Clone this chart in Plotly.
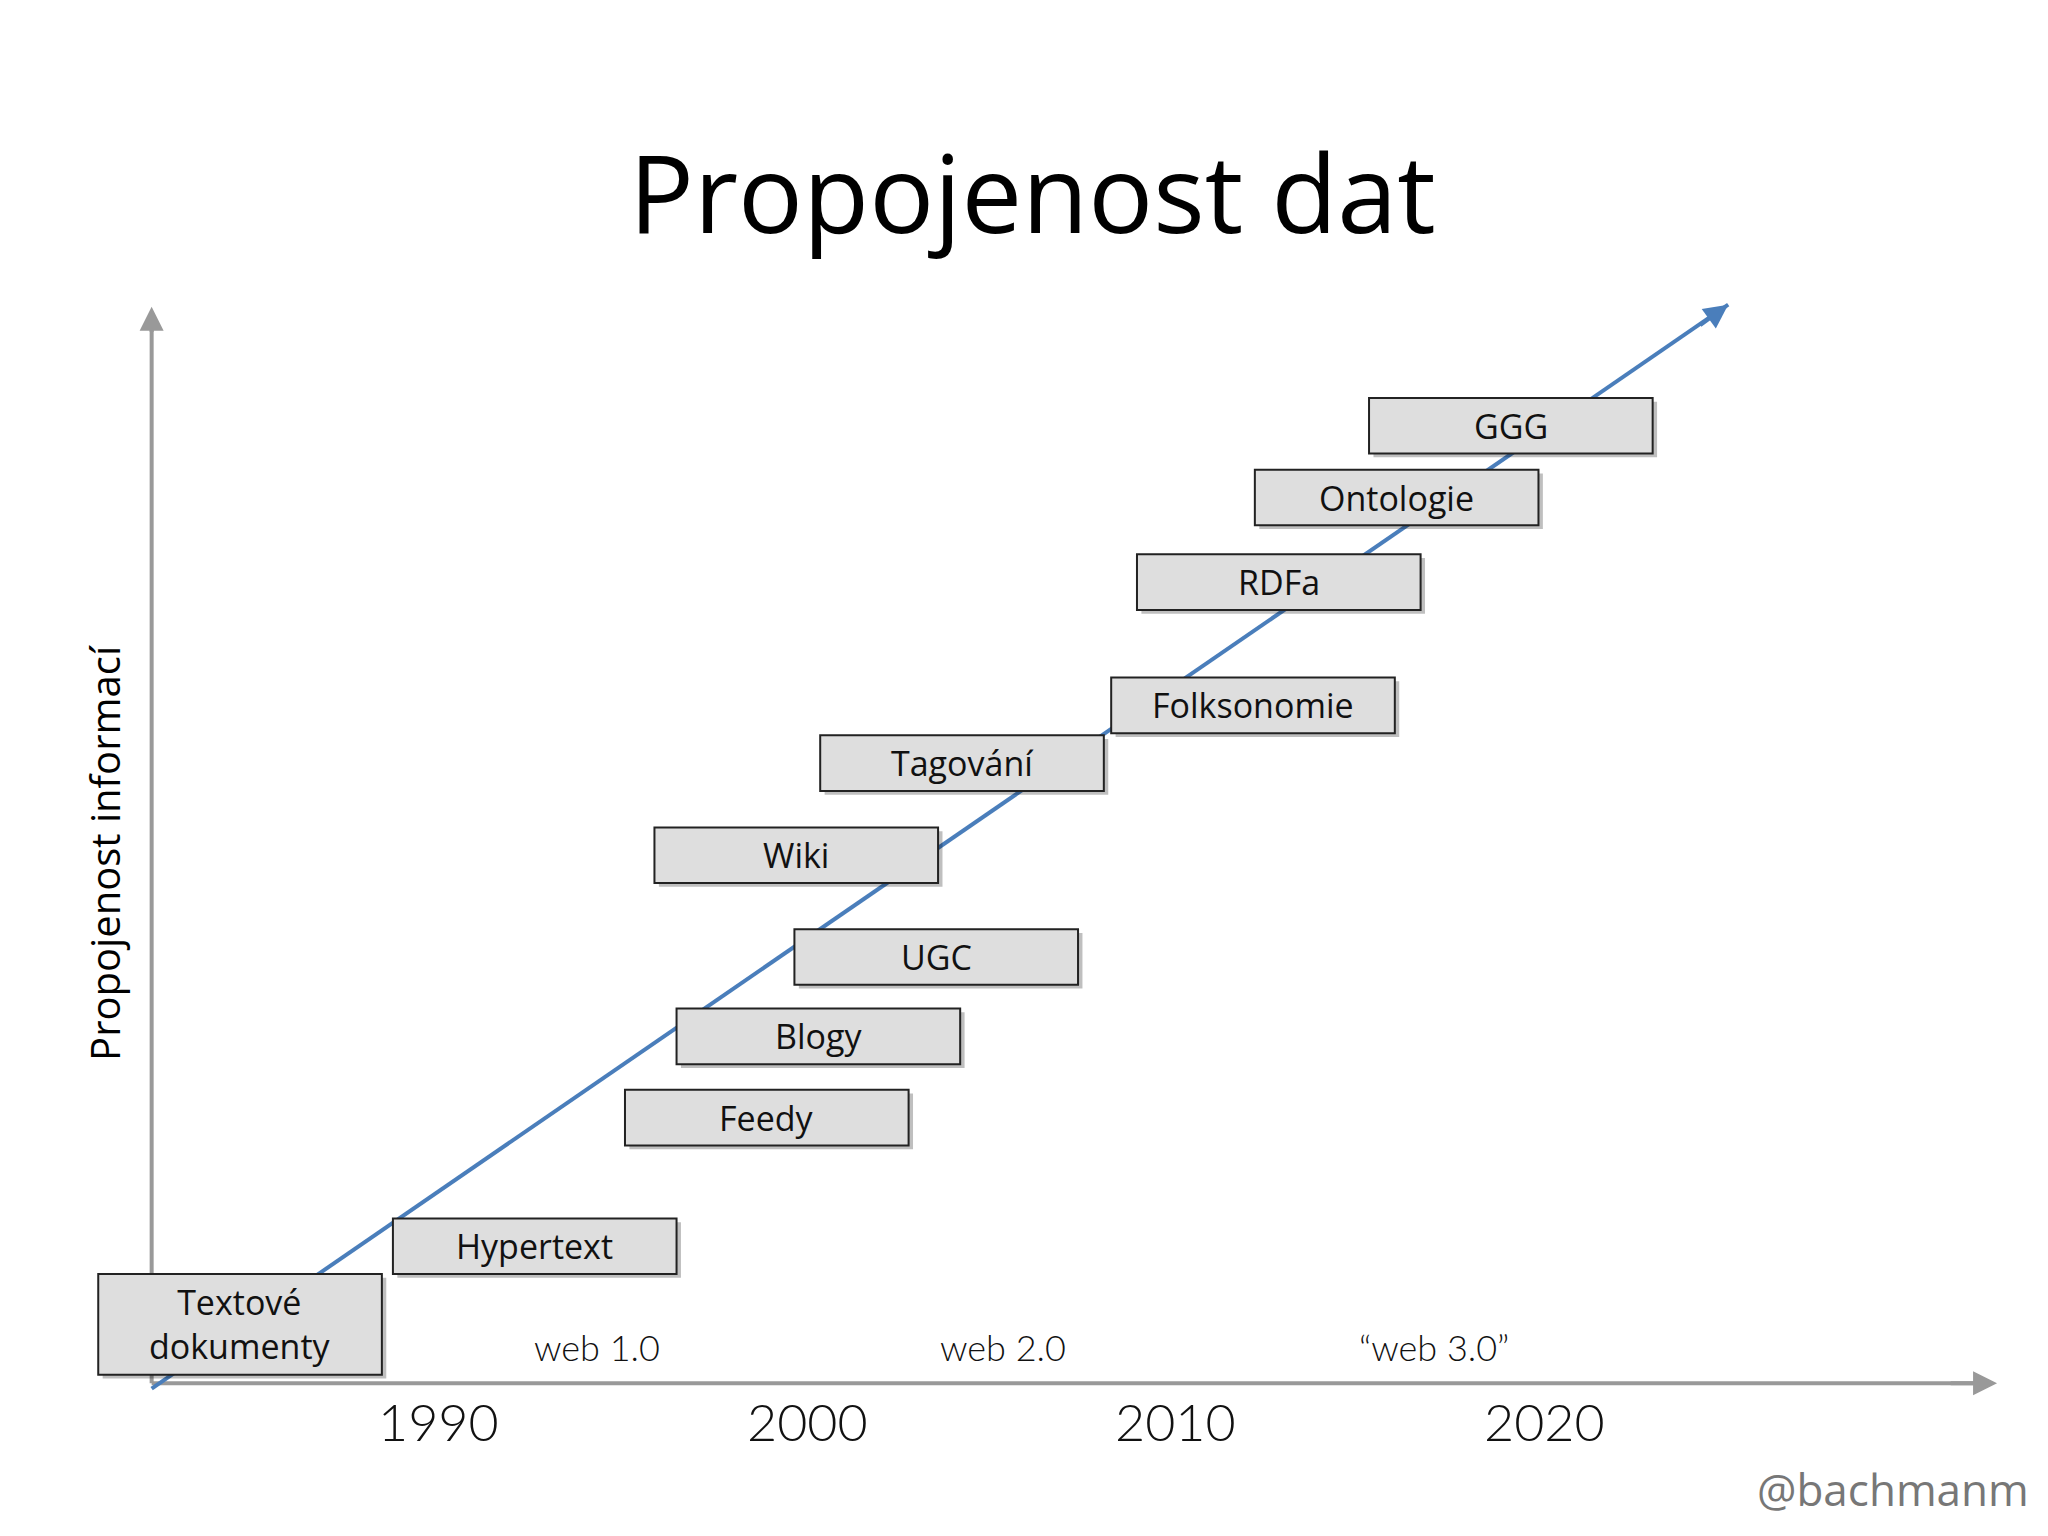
import plotly.graph_objects as go

labels = ["Textové<br>dokumenty", "Hypertext", "Feedy", "Blogy", "UGC", "Wiki",
          "Tagování", "Folksonomie", "RDFa", "Ontologie", "GGG"]
box_x = [1984.6, 1992.6, 1998.9, 2000.3, 2003.5, 1999.7, 2004.2, 2012.1, 2012.8, 2016.0, 2019.1]
box_y = [5.5, 12.8, 24.8, 32.4, 39.8, 49.3, 57.9, 63.3, 74.8, 82.7, 89.4]
box_h = [9.4, 5.2, 5.2, 5.2, 5.2, 5.2, 5.2, 5.2, 5.2, 5.2, 5.2]
tick_years = [1990, 2000, 2010, 2020]
tick_labels = ["1990", "2000", "2010", "2020"]
era_x = [1994.3, 2005.3, 2017.0]
era_labels = ["web 1.0", "web 2.0", "“web 3.0”"]
trend_x = [1982.2, 2025.0]
trend_y = [-0.5, 100.7]

BOX_W = 7.7
fig = go.Figure()
fig.add_trace(go.Scatter(x=trend_x, y=trend_y, mode="lines",
                         line=dict(color="#4a7ebb", width=4), hoverinfo="skip"))

shapes = []
anns = []
shapes.append(dict(type="line", x0=1982.2, x1=2032.0, y0=0, y1=0, line=dict(color="#999", width=4), layer="below"))
shapes.append(dict(type="line", x0=1982.2, x1=1982.2, y0=0, y1=99, line=dict(color="#999", width=4), layer="below"))
anns.append(dict(x=2032.3, y=0, ax=2031.0, ay=0, axref="x", ayref="y", xref="x", yref="y", text="",
                 showarrow=True, arrowhead=2, arrowsize=1.2, arrowwidth=4, arrowcolor="#999"))
anns.append(dict(x=1982.2, y=100.5, ax=1982.2, ay=98, axref="x", ayref="y", xref="x", yref="y", text="",
                 showarrow=True, arrowhead=2, arrowsize=1.2, arrowwidth=4, arrowcolor="#999"))
anns.append(dict(x=trend_x[1], y=trend_y[1], ax=trend_x[1] - 0.8, ay=trend_y[1] - 2.0,
                 axref="x", ayref="y", xref="x", yref="y", text="", showarrow=True,
                 arrowhead=2, arrowsize=1.2, arrowwidth=4, arrowcolor="#4a7ebb"))

for lab, x, y, h in zip(labels, box_x, box_y, box_h):
    shapes.append(dict(type="rect", x0=x - BOX_W / 2 + 0.12, x1=x + BOX_W / 2 + 0.12,
                       y0=y - h / 2 - 0.35, y1=y + h / 2 - 0.35,
                       fillcolor="rgba(0,0,0,0.25)", line=dict(width=0)))
    shapes.append(dict(type="rect", x0=x - BOX_W / 2, x1=x + BOX_W / 2, y0=y - h / 2, y1=y + h / 2,
                       fillcolor="#dedede", line=dict(color="#222", width=2)))
    anns.append(dict(x=x, y=y, xref="x", yref="y", text=lab, showarrow=False,
                     font=dict(family="Open Sans", size=34, color="#111")))

for t, l in zip(tick_years, tick_labels):
    anns.append(dict(x=t, y=-3.5, xref="x", yref="y", text=l, showarrow=False, yanchor="middle",
                     font=dict(family="Lato", size=52, color="#111", weight=300)))
for t, l in zip(era_x, era_labels):
    anns.append(dict(x=t, y=3.4, xref="x", yref="y", text=l, showarrow=False,
                     font=dict(family="Lato", size=36, color="#111", weight=300)))

anns.append(dict(x=0.5, y=0.93, xref="paper", yref="paper", text="Propojenost dat", showarrow=False,
                 font=dict(family="Open Sans", size=108, color="#000")))
anns.append(dict(x=0.033, y=0.45, xref="paper", yref="paper", text="Propojenost informací", showarrow=False,
                 textangle=-90, font=dict(family="Open Sans", size=40, color="#000")))
anns.append(dict(x=0.988, y=0.015, xref="paper", yref="paper", text="@bachmanm", showarrow=False,
                 xanchor="right", yanchor="bottom", font=dict(family="Open Sans", size=44, color="#777")))

fig.update_layout(width=2048, height=1536, margin=dict(l=0, r=0, t=0, b=0),
                  paper_bgcolor="white", plot_bgcolor="white", showlegend=False,
                  xaxis=dict(range=[1978.3, 2033.9], visible=False, fixedrange=True),
                  yaxis=dict(range=[-15.0, 128.4], visible=False, fixedrange=True),
                  shapes=shapes, annotations=anns)
fig.write_html("out.html")
